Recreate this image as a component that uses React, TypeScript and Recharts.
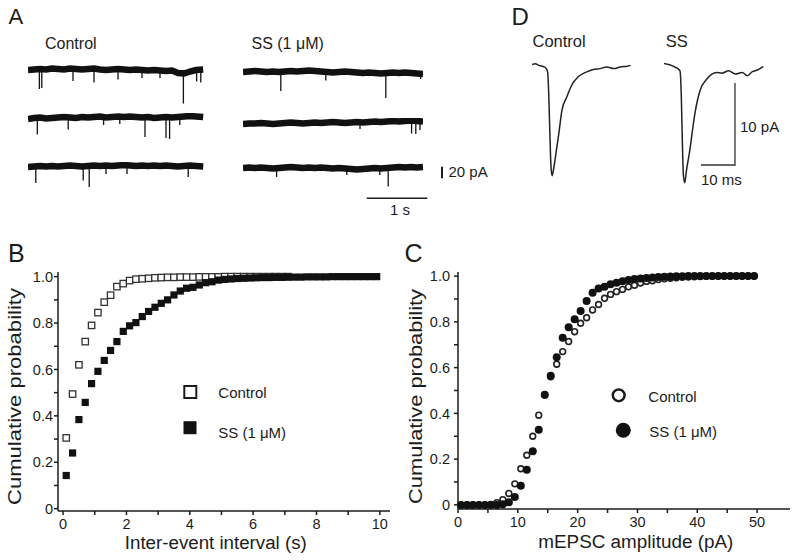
import React from 'react';
import { LineChart, Line, ScatterChart, Scatter, XAxis, YAxis } from 'recharts';

const FONT = "'Liberation Sans', Arial, Helvetica, sans-serif";
const INK = '#1c1c1c';

// ---- A: raw mEPSC traces (time s, current pA) ----
const timesCtrl = [0, 0.1, 0.2, 0.3, 0.4, 0.5, 0.6, 0.7, 0.8, 0.9, 1.0, 1.1, 1.2, 1.3, 1.4, 1.5, 1.6, 1.7, 1.8, 1.9, 2.0, 2.1, 2.2, 2.3, 2.4, 2.5, 2.6, 2.7, 2.8, 2.92];
const timesSS = [0, 0.1, 0.2, 0.3, 0.4, 0.5, 0.6, 0.7, 0.8, 0.9, 1.0, 1.1, 1.2, 1.3, 1.4, 1.5, 1.6, 1.7, 1.8, 1.9, 2.0, 2.1, 2.2, 2.3, 2.4, 2.5, 2.6, 2.7, 2.8, 2.9, 3.0];

const ctrlDrift1 = [0, 1, 2, 1, 3, 2, 1, 3, 2, 1, 2, 3, 1, 0, 1, 2, 1, 0, 1, 0, -1, 0, -1, -2, -1, -6, -7, -3, 0, 1];
const ctrlDrift2 = [-2, 0, 1, -1, 0, 1, 2, 1, 0, 2, 1, 2, 3, 1, 2, 3, 2, 3, 2, 1, 2, 0, 1, 2, 1, 2, 3, 4, 3, 2];
const ctrlDrift3 = [0, 1, 2, 1, 2, 1, 2, 3, 2, 1, 2, 3, 2, 3, 2, 3, 4, 3, 2, 3, 2, 3, 2, 3, 2, 1, 2, 3, 2, 1];
const ssDrift1 = [0, 1, 2, 1, 0, 1, 0, 1, 2, 1, 2, 3, 2, 1, 0, -1, 0, 1, 0, -1, -2, -1, -2, -3, -2, -1, -2, -1, -2, -3, -4];
const ssDrift2 = [-2, -1, -1, 0, -1, -2, -1, 0, 1, 0, -1, 0, 1, 0, 1, 2, 1, 0, 1, 2, 1, 2, 3, 2, 3, 4, 3, 4, 5, 4, 3];
const ssDrift3 = [0, 1, 0, 1, 0, -1, 0, 1, 2, 1, 0, 1, 0, 1, 0, -1, 0, -1, -2, -3, -2, -1, 0, -1, 0, 1, 2, 1, 2, 1, 2];

// events: [time s, peak pA]
const ctrlEvents1 = [[0.19, -38], [0.23, -36], [0.75, -22], [1.1, -25], [1.5, -19], [1.9, -16], [2.2, -16], [2.59, -67], [2.81, -23], [2.88, -25]];
const ctrlEvents2 = [[0.155, -33], [0.67, -23], [1.26, -14], [1.53, -12], [1.95, -38], [2.3, -40], [2.36, -42], [2.53, -14]];
const ctrlEvents3 = [[0.13, -32], [0.92, -27], [1.02, -40], [1.3, -14], [1.65, -14], [2.67, -20]];
const ssEvents1 = [[0.63, -38], [1.38, -17], [2.38, -52], [2.96, -14]];
const ssEvents2 = [[1.95, -12], [2.81, -21], [2.88, -22], [2.95, -14]];
const ssEvents3 = [[0.56, -18], [1.73, -14], [2.28, -14], [2.42, -37]];

// ---- D: averaged mEPSCs (time ms, current pA) ----
const avgCtrlT = [0, 1, 2, 3, 4, 4.6, 5.0, 5.3, 5.6, 5.9, 6.3, 6.9, 7.9, 8.8, 10.2, 11.7, 13.6, 16.1, 18, 20, 22, 24, 26, 28, 29];
const avgCtrlI = [0.1, 0.2, 0, -0.1, -0.3, -0.8, -4.5, -9, -12.5, -13.5, -12.8, -11.2, -8.3, -5.5, -3.9, -2.4, -1.4, -0.8, -0.5, -0.4, -0.2, -0.4, -0.2, -0.1, 0];
const avgSST = [0, 1, 2, 3, 4, 4.7, 5.1, 5.4, 5.7, 6.1, 6.6, 7.6, 8.4, 9.1, 10.6, 12.6, 15.5, 17, 19, 21, 23, 24.5, 26, 27.5, 29.2];
const avgSSI = [0.6, 0.5, 0.4, 0.2, 0, -0.3, -3.5, -9, -13, -14, -12.5, -10, -7.5, -5.5, -2.7, -1.3, -0.5, -0.6, -0.3, -0.7, -0.5, -0.9, -0.4, -0.2, 0.2];

// ---- B: inter-event interval cumulative ----
const intervalCtrl = [0.1, 0.3, 0.5, 0.7, 0.9, 1.1, 1.3, 1.5, 1.7, 1.9, 2.1, 2.3, 2.5, 2.7, 2.9, 3.1, 3.3, 3.5, 3.7, 3.9, 4.1, 4.3, 4.5, 4.7, 4.9, 5.1, 5.3, 5.5, 5.7, 5.9, 6.1, 6.3, 6.5, 6.7, 6.9, 7.1];
const intervalCtrlP = [0.305, 0.494, 0.62, 0.72, 0.79, 0.845, 0.89, 0.92, 0.957, 0.97, 0.983, 0.989, 0.991, 0.993, 0.995, 0.996, 0.997, 0.997, 0.998, 0.998, 0.998, 0.999, 0.999, 0.999, 0.999, 1, 1, 1, 1, 1, 1, 1, 1, 1, 1, 1];
const intervalSS = [0.1, 0.3, 0.5, 0.7, 0.9, 1.1, 1.3, 1.5, 1.7, 1.9, 2.1, 2.3, 2.5, 2.7, 2.9, 3.1, 3.3, 3.5, 3.7, 3.9, 4.1, 4.3, 4.5, 4.7, 4.9, 5.1, 5.3, 5.5, 5.7, 5.9, 6.1, 6.3, 6.5, 6.7, 6.9, 7.1, 7.3, 7.5, 7.7, 7.9, 8.1, 8.3, 8.5, 8.7, 8.9, 9.1, 9.3, 9.5, 9.7, 9.9];
const intervalSSP = [0.143, 0.24, 0.384, 0.458, 0.539, 0.592, 0.639, 0.682, 0.72, 0.764, 0.788, 0.802, 0.828, 0.85, 0.868, 0.885, 0.9, 0.921, 0.938, 0.95, 0.954, 0.964, 0.974, 0.978, 0.985, 0.988, 0.99, 0.992, 0.993, 0.994, 0.995, 0.996, 0.996, 0.997, 0.997, 0.998, 0.998, 0.998, 0.999, 0.999, 0.999, 0.999, 1, 1, 1, 1, 1, 1, 1, 1];

// ---- C: amplitude cumulative ----
const ampBins = [0.5, 1.5, 2.5, 3.5, 4.5, 5.5, 6.5, 7.5, 8.5, 9.5, 10.5, 11.5, 12.5, 13.5, 14.5, 15.5, 16.5, 17.5, 18.5, 19.5, 20.5, 21.5, 22.5, 23.5, 24.5, 25.5, 26.5, 27.5, 28.5, 29.5, 30.5, 31.5, 32.5, 33.5, 34.5, 35.5, 36.5, 37.5, 38.5, 39.5, 40.5, 41.5, 42.5, 43.5, 44.5, 45.5, 46.5, 47.5, 48.5, 49.5];
const ampCtrlP = [0, 0, 0, 0, 0, 0.002, 0.01, 0.023, 0.05, 0.092, 0.158, 0.217, 0.3, 0.392, 0.48, 0.56, 0.615, 0.67, 0.714, 0.757, 0.794, 0.818, 0.852, 0.876, 0.903, 0.92, 0.932, 0.942, 0.953, 0.96, 0.97, 0.977, 0.98, 0.985, 0.988, 0.991, 0.993, 0.995, 0.996, 0.997, 0.998, 0.999, 0.999, 1, 1, 1, 1, 1, 1, 1];
const ampSSP = [0, 0, 0, 0, 0, 0, 0, 0.003, 0.012, 0.035, 0.084, 0.154, 0.234, 0.328, 0.481, 0.564, 0.645, 0.731, 0.776, 0.811, 0.847, 0.891, 0.927, 0.946, 0.953, 0.964, 0.971, 0.978, 0.983, 0.987, 0.99, 0.992, 0.994, 0.996, 0.997, 0.998, 0.999, 0.999, 1, 1, 1, 1, 1, 1, 1, 1, 1, 1, 1, 1];

const probTicks = [0, 0.1, 0.2, 0.3, 0.4, 0.5, 0.6, 0.7, 0.8, 0.9, 1.0];
const intervalTicks = [0, 1, 2, 3, 4, 5, 6, 7, 8, 9, 10];
const ampTicks = [0, 5, 10, 15, 20, 25, 30, 35, 40, 45, 50];

const pairs = (xs: number[], ys: number[]) => xs.map((x, i) => ({ x, y: ys[i] }));
const probLabel = (v: number) => (Math.round(v * 10) % 2 !== 0 ? '' : v === 0 ? '0' : v.toFixed(1));

const tickStyle = { fontSize: 14.5, fill: INK, fontFamily: FONT };
const axisStyle = { stroke: INK, strokeWidth: 1.5 };

const OpenSquare = (p: any) => (
  <rect x={p.cx - 3.2} y={p.cy - 3.2} width={6.4} height={6.4} fill="#fff" stroke="#333" strokeWidth={1.3} />
);
const FilledSquare = (p: any) => <rect x={p.cx - 3.6} y={p.cy - 3.6} width={7.2} height={7.2} fill="#111" />;
const OpenCircle = (p: any) => <circle cx={p.cx} cy={p.cy} r={2.9} fill="#fff" stroke="#222" strokeWidth={1.6} />;
const FilledCircle = (p: any) => <circle cx={p.cx} cy={p.cy} r={4} fill="#111" />;

function Trace({ times, drift, events, left, top }: any) {
  const rows: any[] = times.map((t: number, i: number) => ({ t, base: drift[i] }));
  events.forEach(([t, tip]: number[]) => {
    rows.push({ t, spike: 0 }, { t, spike: tip }, { t, spike: null });
  });
  return (
    <div style={{ position: 'absolute', left, top }}>
      <LineChart width={180} height={40} data={rows} margin={{ top: 0, right: 0, bottom: 0, left: 0 }}>
        <XAxis type="number" dataKey="t" domain={[0, 3]} hide height={0} />
        <YAxis type="number" domain={[-70, 10]} hide width={0} allowDataOverflow />
        <Line dataKey="base" stroke="#111" strokeWidth={6.5} dot={false} connectNulls isAnimationActive={false} />
        <Line dataKey="spike" stroke="#111" strokeWidth={1.3} dot={false} isAnimationActive={false} />
      </LineChart>
    </div>
  );
}

function Average({ t, v, left, top }: any) {
  const rows = t.map((x: number, i: number) => ({ t: x, v: v[i] }));
  return (
    <div style={{ position: 'absolute', left, top }}>
      <LineChart width={102} height={139} data={rows} margin={{ top: 0, right: 0, bottom: 0, left: 0 }}>
        <XAxis type="number" dataKey="t" domain={[0, 30]} hide height={0} />
        <YAxis type="number" domain={[-15, 2]} hide width={0} allowDataOverflow />
        <Line dataKey="v" type="monotone" stroke="#222" strokeWidth={1.5} dot={false} isAnimationActive={false} />
      </LineChart>
    </div>
  );
}

const T = ({ x, y, size = 15, children, ...rest }: any) => (
  <text x={x} y={y} fontSize={size} fill={INK} fontFamily={FONT} {...rest}>
    {children}
  </text>
);

export default function App() {
  return (
    <div style={{ position: 'absolute', left: 0, top: 0, width: 800, height: 560, background: '#fff', overflow: 'hidden' }}>
      {/* A */}
      <Trace times={timesCtrl} drift={ctrlDrift1} events={ctrlEvents1} left={28} top={65} />
      <Trace times={timesCtrl} drift={ctrlDrift2} events={ctrlEvents2} left={28} top={113.3} />
      <Trace times={timesCtrl} drift={ctrlDrift3} events={ctrlEvents3} left={28} top={161.7} />
      <Trace times={timesSS} drift={ssDrift1} events={ssEvents1} left={243} top={66.7} />
      <Trace times={timesSS} drift={ssDrift2} events={ssEvents2} left={243} top={117.7} />
      <Trace times={timesSS} drift={ssDrift3} events={ssEvents3} left={243} top={163.3} />

      {/* D */}
      <Average t={avgCtrlT} v={avgCtrlI} left={532} top={48.6} />
      <Average t={avgSST} v={avgSSI} left={664.3} top={51.6} />

      {/* B */}
      <div style={{ position: 'absolute', left: 0, top: 262 }}>
        <ScatterChart width={400} height={298} margin={{ top: 10, right: 10, bottom: 0, left: 0 }}>
          <XAxis type="number" dataKey="x" domain={[-0.16, 10.32]} ticks={intervalTicks} interval={0}
            tickFormatter={(v: number) => (v % 2 === 0 ? String(v) : '')} height={49}
            tick={tickStyle} axisLine={axisStyle} tickLine={axisStyle} tickSize={4} tickMargin={4} />
          <YAxis type="number" dataKey="y" domain={[-0.01, 1.02]} ticks={probTicks} interval={0}
            tickFormatter={probLabel} width={58} tick={tickStyle} axisLine={axisStyle} tickLine={axisStyle}
            tickSize={4} tickMargin={1} />
          <Scatter data={pairs(intervalCtrl, intervalCtrlP)} shape={OpenSquare} isAnimationActive={false} />
          <Scatter data={pairs(intervalSS, intervalSSP)} shape={FilledSquare} isAnimationActive={false} />
        </ScatterChart>
      </div>

      {/* C */}
      <div style={{ position: 'absolute', left: 400, top: 262 }}>
        <ScatterChart width={400} height={298} margin={{ top: 10, right: 10, bottom: 0, left: 0 }}>
          <XAxis type="number" dataKey="x" domain={[0, 55.5]} ticks={ampTicks} interval={0}
            tickFormatter={(v: number) => (v % 10 === 0 ? String(v) : '')} height={51}
            tick={tickStyle} axisLine={axisStyle} tickLine={axisStyle} tickSize={4} tickMargin={4} />
          <YAxis type="number" dataKey="y" domain={[-0.018, 1.018]} ticks={probTicks} interval={0}
            tickFormatter={probLabel} width={58} tick={tickStyle} axisLine={axisStyle} tickLine={axisStyle}
            tickSize={4} tickMargin={4} />
          <Scatter data={pairs(ampBins, ampCtrlP)} shape={OpenCircle} isAnimationActive={false} />
          <Scatter data={pairs(ampBins, ampSSP)} shape={FilledCircle} isAnimationActive={false} />
        </ScatterChart>
      </div>

      {/* labels, legends and scale bars */}
      <svg width={800} height={560} style={{ position: 'absolute', left: 0, top: 0, pointerEvents: 'none' }}>
        <T x={8.5} y={24} size={22}>A</T>
        <T x={45} y={48.5} size={16}>Control</T>
        <T x={251.5} y={49} size={16}>SS (1 μM)</T>
        <line x1={442} y1={166.7} x2={442} y2={178.3} stroke={INK} strokeWidth={2} />
        <T x={448.5} y={176.5}>20 pA</T>
        <line x1={366.7} y1={198.3} x2={427.3} y2={198.3} stroke={INK} strokeWidth={1.5} />
        <T x={390} y={215}>1 s</T>

        <T x={511.5} y={25} size={24}>D</T>
        <T x={532.5} y={46.7} size={16.5}>Control</T>
        <T x={665.7} y={46.7} size={16.5}>SS</T>
        <line x1={735} y1={83} x2={735} y2={165.7} stroke="#333" strokeWidth={1.3} />
        <line x1={701} y1={165} x2={735} y2={165} stroke="#333" strokeWidth={1.3} />
        <T x={740} y={131.7}>10 pA</T>
        <T x={701} y={185}>10 ms</T>

        <T x={8} y={261.7} size={25}>B</T>
        <T x={404.5} y={262} size={25}>C</T>

        <T x={0} y={0} size={18.5} textAnchor="middle" textLength={217} lengthAdjust="spacingAndGlyphs"
          transform="translate(21,396.5) rotate(-90)">Cumulative probability</T>
        <T x={0} y={0} size={18.5} textAnchor="middle" textLength={215} lengthAdjust="spacingAndGlyphs"
          transform="translate(421.5,396.5) rotate(-90)">Cumulative probability</T>
        <T x={215.8} y={549} size={18} textAnchor="middle" textLength={182} lengthAdjust="spacingAndGlyphs">Inter-event interval (s)</T>
        <T x={635.8} y={548} size={18} textAnchor="middle" textLength={195} lengthAdjust="spacingAndGlyphs">mEPSC amplitude (pA)</T>

        <rect x={184.3} y={386} width={12} height={12} fill="#fff" stroke={INK} strokeWidth={2} />
        <rect x={183.5} y={421.2} width={13} height={13} fill="#111" />
        <T x={218.3} y={398.3}>Control</T>
        <T x={218.3} y={438}>SS (1 μM)</T>

        <circle cx={618.7} cy={395.3} r={5.9} fill="#fff" stroke={INK} strokeWidth={2.5} />
        <circle cx={623.3} cy={430.3} r={7.5} fill="#111" />
        <T x={648.3} y={401.7}>Control</T>
        <T x={649.3} y={436.7}>SS (1 μM)</T>
      </svg>
    </div>
  );
}
